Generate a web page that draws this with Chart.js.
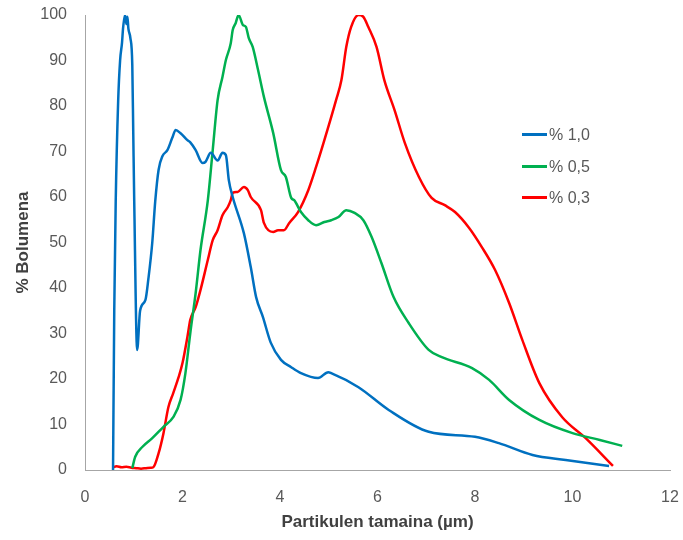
<!DOCTYPE html>
<html>
<head>
<meta charset="utf-8">
<script src="https://cdn.jsdelivr.net/npm/chart.js@4"></script>
<style>
  body { margin: 0; background: #fff; }
  #wrap { position: relative; width: 683px; height: 540px; }
  #legend { position: absolute; left: 522px; top: 0; font: 16px "Liberation Sans", sans-serif; color: #595959; }
  .item { position: absolute; left: 0; white-space: nowrap; height: 20px; line-height: 20px; }
  .item span.line { display: inline-block; width: 25px; height: 3px; vertical-align: middle; margin-right: 2px; position: relative; top: -1px; }
</style>
</head>
<body>
<div id="wrap">
  <canvas id="grafica" width="683" height="540"></canvas>
  <div id="legend"></div>
</div>
<script>
// Datos
const seriesNames = ["% 1,0", "% 0,5", "% 0,3"];
const seriesColors = ["#0070C0", "#00B050", "#FF0000"];

// % 1,0
const blueX = [0.575, 0.60, 0.63, 0.68, 0.72, 0.76, 0.78, 0.82, 0.85, 0.87, 0.89, 0.93, 0.97, 0.99, 1.01, 1.07, 1.13, 1.24, 1.30, 1.38, 1.44, 1.51, 1.59, 1.69, 1.79, 1.86, 1.96, 2.10, 2.16, 2.27, 2.41, 2.47, 2.58, 2.72, 2.82, 2.89, 2.95, 3.03, 3.26, 3.40, 3.51, 3.65, 3.81, 4.02, 4.23, 4.43, 4.78, 4.99, 5.05, 5.61, 6.23, 7.05, 8.0, 8.49, 9.18, 9.86, 10.75];
const blueY = [0, 35, 59, 81, 90, 94, 97, 100, 98, 99.6, 97, 95, 89, 74, 59, 26.4, 35, 37.4, 42, 50, 59, 66, 69, 70.3, 73, 74.7, 74, 72.5, 72, 70.3, 67.5, 67.7, 69.7, 68, 69.7, 69.2, 63.7, 60, 52, 44.6, 38, 33.6, 28, 24.2, 22.6, 21.3, 20.2, 21.5, 21.3, 18.2, 13.2, 8.4, 7.3, 5.9, 3.3, 2.2, 0.9];

// % 0,5
const greenX = [0.97, 1.03, 1.18, 1.38, 1.61, 1.81, 1.96, 2.06, 2.16, 2.27, 2.37, 2.52, 2.62, 2.72, 2.82, 2.89, 2.99, 3.03, 3.09, 3.15, 3.24, 3.30, 3.36, 3.44, 3.55, 3.67, 3.86, 4.02, 4.12, 4.23, 4.29, 4.43, 4.58, 4.74, 4.91, 5.05, 5.20, 5.36, 5.53, 5.71, 5.88, 6.08, 6.33, 6.64, 7.05, 7.32, 7.94, 8.29, 8.70, 9.32, 10.0, 10.56, 11.02];
const greenY = [0.4, 2.9, 5.1, 7.0, 9.5, 11.6, 15.4, 21.3, 30.1, 38.9, 48.4, 59.3, 70.3, 81.3, 86.4, 90.1, 93.8, 96.7, 98.2, 100, 97.8, 97.4, 94.9, 93, 87.9, 82, 74.1, 65.9, 64.4, 59.8, 59.3, 56.7, 54.9, 53.8, 54.5, 54.9, 55.6, 57.1, 56.5, 54.9, 51.2, 45.5, 38, 32.3, 26.4, 24.8, 22.4, 19.8, 15.4, 11, 8.1, 6.6, 5.3];

// % 0,3
const redX = [0.56, 0.65, 0.75, 0.85, 0.95, 1.05, 1.15, 1.25, 1.35, 1.40, 1.51, 1.61, 1.71, 1.81, 1.92, 2.0, 2.10, 2.16, 2.27, 2.37, 2.52, 2.62, 2.72, 2.82, 2.93, 2.99, 3.03, 3.13, 3.26, 3.34, 3.40, 3.61, 3.67, 3.86, 3.96, 4.08, 4.19, 4.37, 4.58, 4.74, 4.91, 5.15, 5.26, 5.36, 5.46, 5.61, 5.71, 5.81, 5.98, 6.14, 6.35, 6.56, 6.85, 7.11, 7.38, 7.59, 7.88, 8.14, 8.41, 8.70, 8.97, 9.32, 9.79, 10.27, 10.83];
const redY = [0.5, 0.8, 0.6, 0.7, 0.5, 0.4, 0.3, 0.4, 0.5, 0.6, 3.7, 8.1, 13.8, 16.9, 20.4, 23.5, 29.2, 33, 35.8, 39.6, 46.2, 50.5, 52.7, 56, 57.8, 59.3, 60.9, 61.1, 62.2, 61.5, 60, 57.1, 54.3, 52.3, 52.7, 52.7, 54.3, 56.7, 61.5, 66.6, 72.5, 81.3, 85.7, 93, 97.4, 100, 99.6, 97.4, 93, 85.7, 79.1, 71.9, 64.4, 59.8, 58.2, 56.7, 53.2, 49, 44, 36.7, 28.6, 19.1, 11.6, 7.0, 0.9];

const xLabel = "Partikulen tamaina (µm)";
const yLabel = "% Bolumena";

function toPoints(xs, ys) {
    return xs.map((x, i) => ({ x: x, y: ys[i] }));
}

const allX = [blueX, greenX, redX];
const allY = [blueY, greenY, redY];

const datasets = seriesNames.map((name, i) => ({
    label: name,
    data: toPoints(allX[i], allY[i]),
    borderColor: seriesColors[i],
    backgroundColor: seriesColors[i],
    borderWidth: 2.5,
    pointRadius: 0,
    cubicInterpolationMode: 'monotone',
    fill: false
}));

const tickFont = { family: "'Liberation Sans', sans-serif", size: 16 };
const titleFont = { family: "'Liberation Sans', sans-serif", size: 17, weight: 'bold' };

const config = {
    type: 'line',
    data: { datasets: datasets },
    options: {
        responsive: false,
        animation: false,
        layout: { padding: { top: 15, right: 13, left: 0, bottom: 0 } },
        plugins: { legend: { display: false }, tooltip: { enabled: false } },
        scales: {
            x: {
                type: 'linear',
                min: 0, max: 12,
                ticks: { stepSize: 2, color: '#595959', font: tickFont, padding: 18, maxRotation: 0 },
                grid: { display: false, drawTicks: false },
                border: { display: true, color: '#a6a6a6', width: 1 },
                title: { display: true, text: xLabel, color: '#404040', font: titleFont, padding: { top: 0, bottom: 7 } },
                afterFit: (scale) => { scale.height = 70; scale.paddingLeft = 0; scale.paddingRight = 0; }
            },
            y: {
                min: 0, max: 100,
                ticks: { stepSize: 10, color: '#595959', font: tickFont, padding: 18 },
                grid: { display: false, drawTicks: false },
                border: { display: true, color: '#a6a6a6', width: 1 },
                title: { display: true, text: yLabel, color: '#404040', font: titleFont, padding: { top: 13, bottom: 0 } },
                afterFit: (scale) => { scale.width = 85; scale.paddingTop = 0; scale.paddingBottom = 0; }
            }
        }
    }
};

const ChartPrincipal = new Chart(document.getElementById('grafica'), config);

// Leyenda como texto HTML sobre el grafico
const legendTops = [135, 167, 198];
const legend = document.getElementById('legend');
seriesNames.forEach((name, i) => {
    const item = document.createElement('div');
    item.className = 'item';
    item.style.top = (legendTops[i] - 10) + 'px';
    item.innerHTML = '<span class="line" style="background:' + seriesColors[i] + '"></span>' + name;
    legend.appendChild(item);
});
</script>
</body>
</html>
